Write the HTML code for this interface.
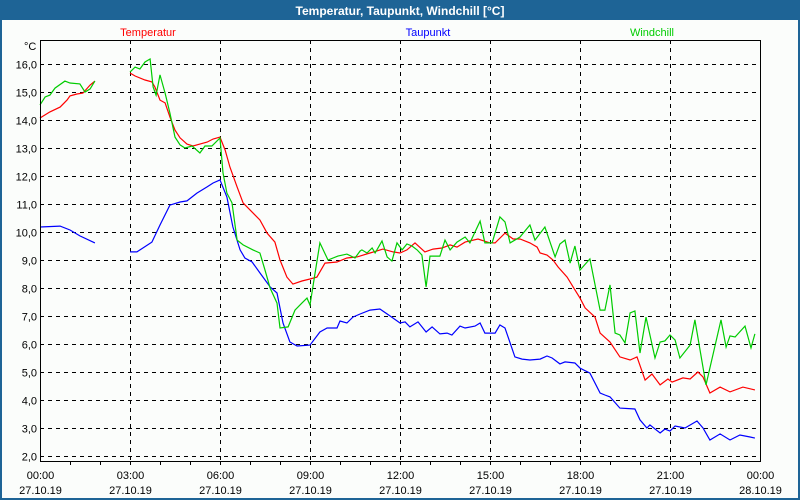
<!DOCTYPE html>
<html><head><meta charset="utf-8"><style>
html,body{margin:0;padding:0;background:#fff;}
svg{display:block;font-family:"Liberation Sans","DejaVu Sans",sans-serif;}
</style></head><body>
<svg id="chart" width="800" height="500" viewBox="0 0 800 500">
<rect x="0" y="0" width="800" height="500" fill="#1e6496"/>
<rect x="2" y="20" width="796" height="478" fill="#fbfdfb"/>
<text x="400" y="15" text-anchor="middle" fill="#fff" font-size="12" font-weight="bold">Temperatur, Taupunkt, Windchill [°C]</text>
<text x="148" y="36" text-anchor="middle" fill="#ff0000" font-size="11">Temperatur</text>
<text x="428" y="36" text-anchor="middle" fill="#0000ff" font-size="11">Taupunkt</text>
<text x="652" y="36" text-anchor="middle" fill="#00cc00" font-size="11">Windchill</text>
<text x="24" y="50" font-size="11" fill="#000">°C</text>
<g id="grid"></g><g id="series"></g><g id="axes"></g>
</svg>
<script>
const yTicks=[2,3,4,5,6,7,8,9,10,11,12,13,14,15,16];
const xTickHours=[0,3,6,9,12,15,18,21,24];
const xTimeLabels=["00:00","03:00","06:00","09:00","12:00","15:00","18:00","21:00","00:00"];
const xDateLabels=["27.10.19","27.10.19","27.10.19","27.10.19","27.10.19","27.10.19","27.10.19","27.10.19","28.10.19"];

const tempTimes=[0,0.33,0.67,0.9,1.0,1.23,1.43,1.67,1.83,null,3.0,3.17,3.5,3.73,3.83,4.0,4.17,4.33,4.5,4.67,4.9,5.1,5.33,5.57,5.77,6.0,6.17,6.33,6.57,6.77,7.0,7.33,7.57,7.83,8.0,8.23,8.43,8.73,9.0,9.23,9.5,9.9,10.23,10.57,11.0,11.43,11.77,12.0,12.23,12.5,12.83,13.1,13.4,13.67,13.9,14.17,14.6,15.0,15.17,15.5,15.77,16.0,16.33,16.57,16.67,16.9,17.1,17.27,17.57,17.77,18.0,18.17,18.5,18.67,19.0,19.33,19.67,19.9,20.17,20.4,20.67,20.93,21.07,21.43,21.67,21.93,22.1,22.33,22.67,23.0,23.43,23.83];
const tempValues=[14.07,14.29,14.46,14.71,14.86,14.93,14.96,15.25,15.39,null,15.68,15.57,15.43,15.36,15.18,14.71,14.61,14.11,13.64,13.36,13.14,13.07,13.14,13.21,13.32,13.39,12.93,12.32,11.61,11.04,10.79,10.43,9.96,9.64,9.0,8.39,8.14,8.25,8.32,8.39,8.89,8.93,9.07,9.11,9.25,9.39,9.29,9.25,9.36,9.61,9.29,9.39,9.43,9.54,9.46,9.64,9.75,9.61,9.61,9.96,9.75,9.75,9.61,9.46,9.25,9.18,9.0,8.75,8.39,8.04,7.64,7.29,6.96,6.39,6.07,5.54,5.43,5.54,4.71,4.93,4.54,4.75,4.64,4.79,4.75,5.0,4.82,4.25,4.46,4.29,4.46,4.36];

const dewTimes=[0,0.67,1.0,1.33,1.83,null,3.0,3.23,3.43,3.73,4.0,4.33,4.67,4.9,5.23,5.57,5.77,6.0,6.23,6.43,6.67,6.83,7.07,7.33,7.67,7.9,8.1,8.33,8.57,9.0,9.33,9.57,9.9,10.0,10.23,10.43,10.67,11.0,11.33,11.67,12.0,12.17,12.33,12.6,12.87,13.07,13.33,13.57,13.73,14.0,14.17,14.5,14.67,14.83,15.17,15.33,15.5,15.83,16.07,16.33,16.67,16.9,17.07,17.33,17.5,17.83,18.0,18.33,18.67,18.83,19.0,19.33,19.83,20.0,20.23,20.33,20.67,20.83,21.0,21.17,21.5,21.9,22.1,22.33,22.67,23.0,23.33,23.67,23.83];
const dewValues=[10.18,10.21,10.07,9.86,9.61,null,9.29,9.29,9.43,9.64,10.25,10.96,11.07,11.11,11.39,11.61,11.75,11.86,11.25,10.18,9.36,9.07,8.93,8.54,8.04,7.82,6.75,6.07,5.93,5.96,6.43,6.57,6.57,6.82,6.75,6.96,7.07,7.21,7.25,7.0,6.75,6.79,6.61,6.79,6.43,6.61,6.36,6.39,6.32,6.64,6.57,6.64,6.75,6.39,6.39,6.68,6.57,5.54,5.46,5.43,5.46,5.57,5.5,5.29,5.36,5.32,5.14,4.96,4.25,4.18,4.11,3.71,3.68,3.29,3.0,3.11,2.82,2.96,2.89,3.07,3.0,3.25,3.0,2.57,2.79,2.57,2.75,2.68,2.64];

const chillTimes=[0,0.17,0.33,0.5,0.83,1.0,1.33,1.5,1.67,1.83,null,3.0,3.17,3.33,3.5,3.67,3.77,3.87,4.0,4.17,4.33,4.5,4.67,4.83,5.07,5.33,5.5,5.73,6.0,6.1,6.23,6.4,6.57,6.77,7.1,7.33,7.5,7.67,7.9,8.0,8.27,8.5,8.73,8.9,9.0,9.17,9.33,9.6,9.93,10.23,10.5,10.67,10.73,10.9,11.07,11.17,11.4,11.57,11.73,11.9,12.07,12.23,12.4,12.57,12.73,12.87,13.0,13.33,13.5,13.67,13.9,14.17,14.33,14.67,14.83,15.07,15.33,15.5,15.67,16.0,16.33,16.5,16.83,17.17,17.33,17.5,17.67,17.83,18.0,18.33,18.67,18.83,19.0,19.17,19.33,19.5,19.67,19.83,20.0,20.2,20.5,20.67,20.83,21.0,21.17,21.33,21.67,21.83,22.2,22.7,22.87,23.0,23.17,23.5,23.7,23.83];
const chillValues=[14.54,14.82,14.89,15.14,15.39,15.32,15.29,15.0,15.11,15.39,null,15.71,15.89,15.82,16.07,16.18,15.18,14.89,15.61,14.96,14.25,13.39,13.11,13.0,13.07,12.82,13.07,13.07,13.36,12.11,11.39,11.04,9.71,9.54,9.36,9.25,8.64,8.0,7.46,6.57,6.61,7.21,7.46,7.64,7.39,8.54,9.61,9.0,9.14,9.21,9.07,9.32,9.36,9.25,9.43,9.25,9.68,9.11,8.96,9.61,9.36,9.57,9.5,9.36,9.18,8.04,9.14,9.14,9.71,9.36,9.64,9.82,9.61,10.39,9.61,9.61,10.54,10.36,9.61,9.82,10.25,9.71,10.18,9.11,9.57,9.71,8.89,9.5,8.64,9.04,7.21,7.21,8.11,6.39,6.32,6.04,7.11,7.18,5.68,6.96,5.5,6.07,6.11,6.32,6.14,5.5,5.96,6.86,4.54,6.86,5.89,6.29,6.25,6.64,5.86,6.36];

const NS='http://www.w3.org/2000/svg';
const X0=40,X1=760,YTOP=40,YBOT=461;
function xPos(h){return X0+h*(X1-X0)/24;}
function yPos(v){return 64+(16-v)*28;}
function mk(tag,attrs,parent){const e=document.createElementNS(NS,tag);for(const k in attrs)e.setAttribute(k,attrs[k]);parent.appendChild(e);return e;}
const grid=document.getElementById('grid'),axes=document.getElementById('axes'),series=document.getElementById('series');

yTicks.forEach(v=>{
  const y=Math.round(yPos(v))+0.5;
  const l=mk('line',{x1:X0,x2:X1,y1:y,y2:y,stroke:'#000','stroke-width':1,'stroke-dasharray':'4,4'},grid);
  
  
  const t=mk('text',{x:37,y:y+4,'text-anchor':'end','font-size':11,fill:'#000'},axes);
  t.textContent=v.toFixed(1).replace('.',',');
  
  
});
for(let h=1;h<24;h++){
  const x=Math.round(xPos(h))+0.5;
  const tk=mk('line',{x1:x,x2:x,y1:YBOT,y2:YBOT+4,stroke:'#000'},axes);
  
  
}
xTickHours.forEach((h,i)=>{
  const x=Math.round(xPos(h))+0.5;
  if(h>0&&h<24){
    const l=mk('line',{x1:x,x2:x,y1:YTOP,y2:YBOT,stroke:'#000','stroke-dasharray':'4,4'},grid);
    
    
  }
  const t1=mk('text',{x:x,y:479,'text-anchor':'middle','font-size':11,fill:'#000'},axes);
  t1.textContent=xTimeLabels[i];
  
  
  const t2=mk('text',{x:x,y:494,'text-anchor':'middle','font-size':11,fill:'#000'},axes);
  t2.textContent=xDateLabels[i];
  
  
});
const frame=mk('rect',{x:X0+0.5,y:YTOP+0.5,width:X1-X0,height:YBOT-YTOP,fill:'none',stroke:'#000','stroke-width':1},axes);



function drawSeries(times,vals,color,name){
  let d='',pen=false;
  for(let i=0;i<times.length;i++){
    if(times[i]===null||vals[i]===null){pen=false;continue;}
    d+=(pen?'L':'M')+xPos(times[i]).toFixed(1)+','+yPos(vals[i]).toFixed(1);
    pen=true;
  }
  const p=mk('path',{d:d,fill:'none',stroke:color,'stroke-width':1.2,'stroke-linejoin':'miter'},series);
  
  
}
drawSeries(dewTimes,dewValues,'#0000ff','taupunkt-line');
drawSeries(tempTimes,tempValues,'#ff0000','temperatur-line');
drawSeries(chillTimes,chillValues,'#00cc00','windchill-line');
</script>
</body></html>
